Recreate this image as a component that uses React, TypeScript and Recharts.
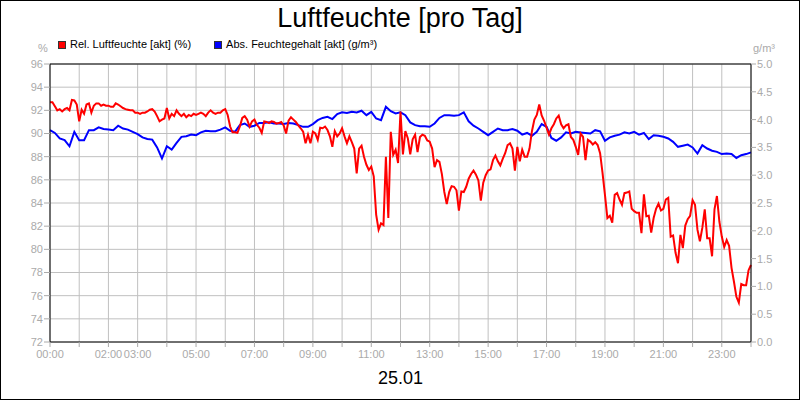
import React from 'react'
import {
    LineChart, Line, XAxis, YAxis, CartesianGrid, ReferenceLine
} from 'recharts'

// relative humidity (%), one reading every 5 minutes from 00:00 to 24:00
const relHumidity = [
    92.7, 92.7, 92.35, 92.0, 92.1, 91.9, 92.1, 92.2, 92.0, 92.9, 92.85, 92.5,
    91.05, 92.05, 91.7, 92.5, 92.6, 91.8, 92.4, 92.6, 92.6, 92.4, 92.5, 92.4,
    92.4, 92.3, 92.3, 92.6, 92.5, 92.35, 92.2, 92.1, 92.05, 92.0, 92.0, 91.8,
    91.8, 91.7, 91.8, 91.8, 91.9, 92.05, 92.1, 91.9, 91.5, 91.05, 91.2, 91.3,
    92.2, 91.3, 91.7, 91.5, 92.0, 91.7, 91.5, 91.7, 91.4, 91.6, 91.5, 91.7,
    91.6, 91.7, 91.8, 91.7, 91.5, 91.8, 92.0, 91.8, 91.7, 91.8, 91.8, 92.0,
    92.1, 91.6, 90.6, 90.1, 90.1, 90.05, 90.6, 91.35, 91.5, 91.2, 90.6, 91.05,
    91.2, 90.75, 90.5, 90.05, 91.05, 91.0, 90.9, 91.05, 91.0, 90.85, 90.9, 91.0,
    90.7, 90.0, 91.1, 91.4, 91.2, 91.0, 90.7, 90.45, 90.15, 89.15, 89.9, 89.15,
    90.15, 90.0, 89.45, 90.5, 90.45, 90.6, 90.3, 89.75, 88.85, 90.2, 89.75, 90.0,
    90.45, 89.75, 89.15, 89.75, 89.25, 88.7, 86.55, 88.7, 88.95, 88.0, 87.3, 86.85,
    87.15, 86.3, 83.0, 81.7, 82.25, 82.1, 88.0, 82.7, 90.15, 88.15, 88.6, 87.45,
    91.9, 88.2, 90.2, 89.6, 88.2, 89.5, 89.9, 88.4, 89.7, 89.9, 89.8, 89.4,
    89.3, 88.7, 87.1, 87.7, 87.55, 86.5, 84.95, 83.9, 84.95, 85.45, 85.4, 85.1,
    83.35, 85.0, 84.95, 85.4, 86.1, 86.5, 86.8, 86.45, 85.95, 84.2, 85.75, 86.4,
    86.8, 86.9, 87.7, 88.1, 87.6, 87.25, 87.8, 88.3, 89.0, 89.15, 88.7, 86.8,
    88.85, 87.6, 88.6, 88.0, 88.0, 88.7, 90.2, 91.2, 91.6, 92.5, 91.55, 91.1,
    90.5, 89.9, 90.45, 90.8, 91.3, 91.55, 90.8, 90.45, 90.7, 90.8, 89.7, 89.45,
    88.85, 88.15, 90.0, 89.7, 87.7, 89.45, 89.3, 89.05, 89.25, 89.0, 88.3, 86.6,
    84.7, 82.7, 82.9, 82.3, 84.7, 84.85, 84.3, 83.85, 84.85, 84.9, 85.0, 83.5,
    83.3, 83.15, 83.15, 81.4, 84.75, 82.85, 82.9, 81.45, 82.7, 83.5, 83.95, 83.35,
    83.5, 84.3, 84.45, 81.1, 81.2, 79.7, 78.8, 81.25, 80.1, 82.05, 82.6, 82.9,
    84.25, 83.85, 81.7, 80.7, 81.85, 83.45, 80.95, 80.95, 79.4, 83.45, 84.6, 82.4,
    81.1, 80.2, 80.8, 80.3, 78.4, 77.2, 75.9, 75.4, 77.0, 76.9, 76.9, 78.2,
    78.65,
]

// absolute humidity (g/m³), one reading every 10 minutes
const absHumidity = [
    3.81, 3.76, 3.66, 3.63, 3.52, 3.78,
    3.63, 3.63, 3.81, 3.81, 3.86, 3.83,
    3.82, 3.81, 3.89, 3.84, 3.82, 3.78,
    3.74, 3.68, 3.65, 3.64, 3.50, 3.30,
    3.52, 3.46, 3.58, 3.69, 3.70, 3.73,
    3.72, 3.77, 3.80, 3.79, 3.79, 3.82,
    3.86, 3.80, 3.78, 3.90, 3.93, 3.87,
    3.89, 3.94, 3.94, 3.95, 3.93, 3.93,
    3.92, 3.94, 3.93, 3.90, 3.87, 3.87,
    3.92, 3.99, 4.03, 4.05, 4.01, 4.10,
    4.13, 4.12, 4.14, 4.13, 4.16, 4.08,
    4.14, 4.02, 3.99, 4.23, 4.15, 4.11,
    4.13, 4.08, 3.95, 3.90, 3.88, 3.88,
    3.87, 3.93, 4.03, 4.08, 4.08, 4.07,
    4.08, 4.13, 3.97, 3.89, 3.84, 3.78,
    3.72, 3.78, 3.84, 3.81, 3.81, 3.83,
    3.80, 3.73, 3.76, 3.71, 3.78, 3.92,
    3.87, 3.67, 3.62, 3.68, 3.77, 3.75,
    3.78, 3.77, 3.76, 3.75, 3.81, 3.79,
    3.62, 3.68, 3.71, 3.73, 3.77, 3.75,
    3.78, 3.73, 3.76, 3.65, 3.72, 3.71,
    3.69, 3.66, 3.60, 3.51, 3.53, 3.55,
    3.50, 3.39, 3.54, 3.48, 3.44, 3.42,
    3.38, 3.39, 3.38, 3.31, 3.36, 3.38,
    3.41,
]

const hourTicks = [0, 1, 2, 3, 4, 5, 6, 7, 8, 9, 10, 11, 12, 13, 14, 15, 16, 17, 18, 19, 20, 21, 22, 23, 24]
const labeledHours = [0, 2, 3, 5, 7, 9, 11, 13, 15, 17, 19, 21, 23]
const relTicks = [72, 74, 76, 78, 80, 82, 84, 86, 88, 90, 92, 94, 96]
const absTicks = [0, 0.5, 1, 1.5, 2, 2.5, 3, 3.5, 4, 4.5, 5]

const seriesInfo = [
    { name: 'Rel. Luftfeuchte [akt] (%)', color: '#ff0000' },
    { name: 'Abs. Feuchtegehalt [akt] (g/m³)', color: '#0000ff' },
]

const data = relHumidity.map((v, i) => ({
    t: i / 12,
    rel: v,
    abs: i % 2 === 0 ? absHumidity[i / 2] : null,
}))

const FONT = '"Liberation Sans", Arial, sans-serif'
const GREY = '#aaaaaa'

function LegendBox() {
    return (
        <div style={{ position: 'absolute', top: 39, left: 58, display: 'flex', fontSize: 11, lineHeight: '11px', color: '#000' }}>
            {seriesInfo.map((s, i) => (
                <div key={s.name} style={{ display: 'flex', alignItems: 'center', marginRight: i === 0 ? 23 : 0 }}>
                    <span style={{ width: 6, height: 6, background: s.color, border: '1px solid #333', marginRight: 4 }} />
                    <span>{s.name}</span>
                </div>
            ))}
        </div>
    )
}

export default function App() {
    return (
        <div style={{ position: 'absolute', left: 0, top: 0, width: 800, height: 400, background: '#fff', fontFamily: FONT }}>
            <div style={{ position: 'absolute', top: 5, left: 0, width: 800, textAlign: 'center', fontSize: 27, lineHeight: '27px', color: '#000' }}>
                Luftfeuchte [pro Tag]
            </div>
            <LegendBox />
            <div style={{ position: 'absolute', top: 43, left: 38, fontSize: 11, lineHeight: '11px', color: GREY }}>%</div>
            <div style={{ position: 'absolute', top: 43, left: 753, fontSize: 11, lineHeight: '11px', color: GREY }}>g/m³</div>
            <LineChart width={800} height={400} data={data} margin={{ top: 64, right: 0, bottom: 0, left: 0 }}>
                <CartesianGrid yAxisId="left" stroke="#c0c0c0" />
                <XAxis
                    dataKey="t" type="number" domain={[0, 24]} ticks={hourTicks} interval={0}
                    height={58} stroke="#000" tickSize={5} tickMargin={3}
                    tickLine={{ stroke: GREY }}
                    tick={{ fill: GREY, fontSize: 11, fontFamily: FONT }}
                    tickFormatter={(h: number) => labeledHours.includes(h) ? String(h).padStart(2, '0') + ':00' : ''}
                    label={{ value: '25.01', position: 'insideBottom', offset: 16, fill: '#000', fontSize: 18, fontFamily: FONT }}
                />
                <YAxis
                    yAxisId="left" domain={[72, 96]} ticks={relTicks} interval={0} width={50}
                    stroke="#000" tickSize={6} tickMargin={1} tickLine={{ stroke: GREY }}
                    tick={{ fill: GREY, fontSize: 11, fontFamily: FONT }}
                />
                <YAxis
                    yAxisId="right" orientation="right" domain={[0, 5]} ticks={absTicks} interval={0} width={49}
                    stroke="#000" tickSize={5} tickMargin={1} tickLine={{ stroke: GREY }}
                    tick={{ fill: GREY, fontSize: 11, fontFamily: FONT }}
                    tickFormatter={(v: number) => v.toFixed(1)}
                />
                <ReferenceLine yAxisId="left" y={96} stroke="#000" />
                <Line yAxisId="right" dataKey="abs" stroke="#0000ff" strokeWidth={2} dot={false} connectNulls isAnimationActive={false} />
                <Line yAxisId="left" dataKey="rel" stroke="#ff0000" strokeWidth={2} dot={false} isAnimationActive={false} />
            </LineChart>
            <div style={{ position: 'absolute', left: 0, top: 0, width: 800, height: 400, boxSizing: 'border-box', border: '1px solid #000', pointerEvents: 'none' }} />
        </div>
    )
}
